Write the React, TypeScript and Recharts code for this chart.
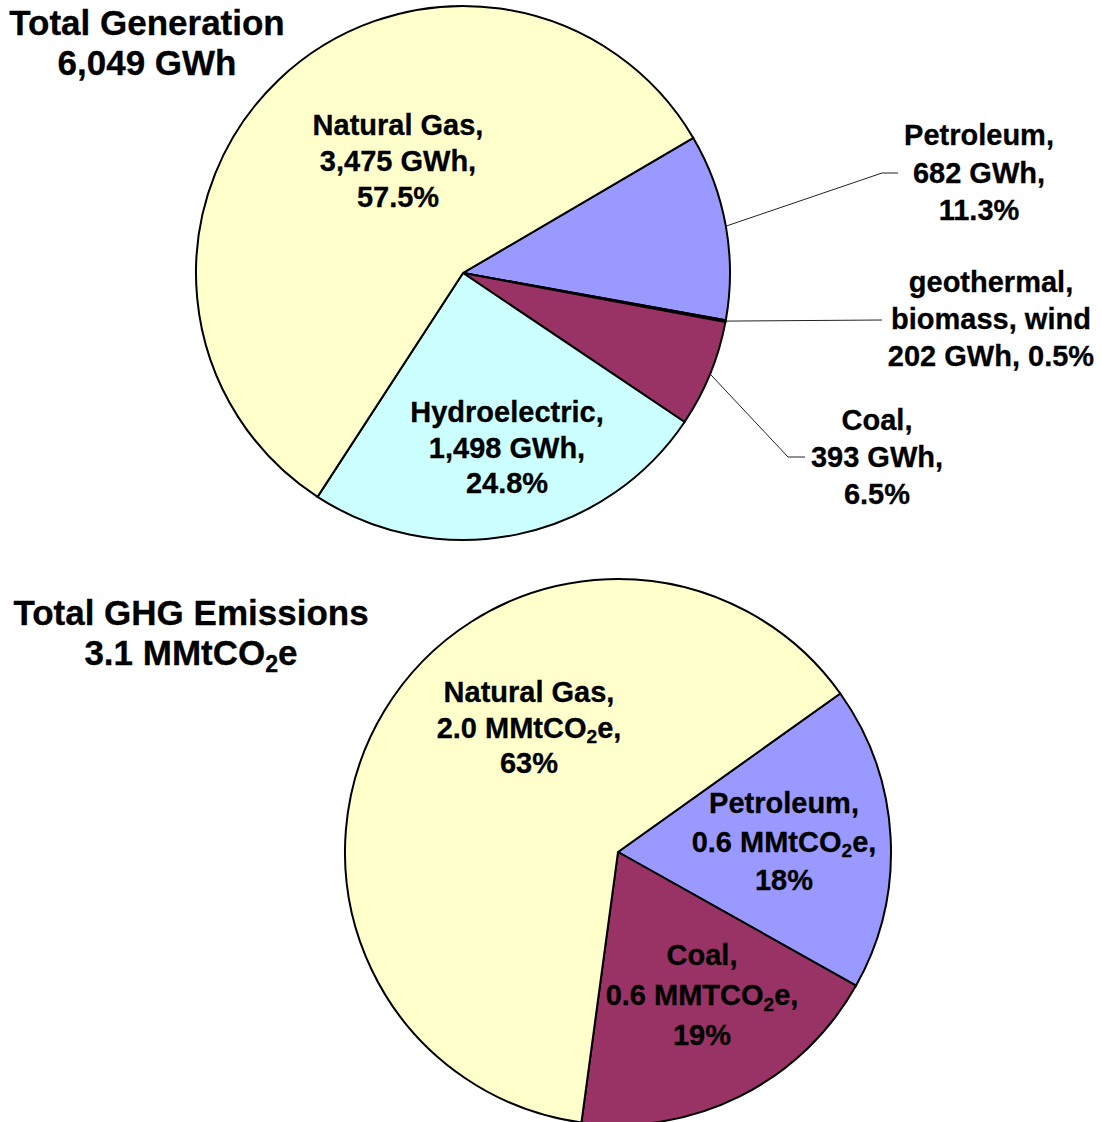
import React from "react";
import { PieChart, Pie, Cell } from "recharts";

// generation by source, percent of total (clockwise from the gas/petroleum edge)
const genNames = ["Petroleum", "geothermal, biomass, wind", "Coal", "Hydroelectric", "Natural Gas"];
const genShares = [11.3, 0.1, 6.5, 24.8, 57.5];
const genLabels = [
  ["Petroleum,", "682 GWh,", "11.3%"],
  ["geothermal,", "biomass, wind", "202 GWh, 0.5%"],
  ["Coal,", "393 GWh,", "6.5%"],
  ["Hydroelectric,", "1,498 GWh,", "24.8%"],
  ["Natural Gas,", "3,475 GWh,", "57.5%"],
];

// ghg emissions by source, percent of total
const ghgNames = ["Petroleum", "Coal", "Natural Gas"];
const ghgShares = [18, 19, 63];
const ghgLabels = [
  ["Petroleum,", "0.6 MMtCO{2}e,", "18%"],
  ["Coal,", "0.6 MMTCO{2}e,", "19%"],
  ["Natural Gas,", "2.0 MMtCO{2}e,", "63%"],
];

const titleGen = ["Total Generation", "6,049 GWh"];
const titleGhg = ["Total GHG Emissions", "3.1 MMtCO{2}e"];

const genData = genNames.map((name, i) => ({ name, value: genShares[i] }));
const ghgData = ghgNames.map((name, i) => ({ name, value: ghgShares[i] }));

const genColors = ["#9999FF", "#CCFFCC", "#993366", "#CCFFFF", "#FFFFCC"];
const ghgColors = ["#9999FF", "#993366", "#FFFFCC"];

const FONT = '"Liberation Sans", Arial, Helvetica, sans-serif';
const LABEL_SIZE = 29;
const TITLE_SIZE = 35;

// label placement relative to pie centre: text centre x, first baseline y, line gap, optional leader
type Place = { x: number; y: number; gap: number; leader?: number[][] };

const genPlace: Place[] = [
  { x: 516, y: -128, gap: 37.5, leader: [[419, -100], [435, -100]] },
  { x: 528, y: 19, gap: 37, leader: [[419, 47]] },
  { x: 414, y: 157, gap: 37, leader: [[325, 184], [342, 184]] },
  { x: 44, y: 149, gap: 35.5 },
  { x: -65, y: -138, gap: 36 },
];
const ghgPlace: Place[] = [
  { x: 166, y: -39, gap: 38.5 },
  { x: 84, y: 113, gap: 40 },
  { x: -89, y: -150, gap: 35.5 },
];

function rich(s: string, size: number) {
  const parts = s.split(/\{(\d)\}/);
  const shift = size * 0.2;
  const out: React.ReactNode[] = [];
  let lowered = false;
  parts.forEach((p, i) => {
    if (i % 2 === 1) {
      out.push(<tspan key={i} fontSize={size * 0.66} dy={shift}>{p}</tspan>);
      lowered = true;
    } else if (p) {
      out.push(<tspan key={i} dy={lowered ? -shift : 0}>{p}</tspan>);
      lowered = false;
    }
  });
  return out;
}

function makeLabel(lines: string[][], places: Place[]) {
  return (props: any) => {
    const { cx, cy, midAngle, outerRadius, index } = props;
    const pl = places[index];
    const txt = lines[index];
    const RAD = Math.PI / 180;
    let leader = null;
    if (pl.leader) {
      const sx = cx + outerRadius * Math.cos(-midAngle * RAD);
      const sy = cy + outerRadius * Math.sin(-midAngle * RAD);
      const pts = [[sx, sy], ...pl.leader.map(([a, b]) => [cx + a, cy + b])];
      leader = (
        <polyline points={pts.map((p) => p.join(",")).join(" ")} fill="none" stroke="#222" strokeWidth={1} />
      );
    }
    return (
      <g key={`lbl-${index}`}>
        {leader}
        {txt.map((line, j) => (
          <text
            key={j}
            x={cx + pl.x}
            y={cy + pl.y + j * pl.gap}
            textAnchor="middle"
            fontFamily={FONT}
            fontWeight="bold"
            fontSize={LABEL_SIZE}
            fill="#000"
            stroke="#000"
            strokeWidth={0.3}
          >
            {rich(line, LABEL_SIZE)}
          </text>
        ))}
      </g>
    );
  };
}

function Title({ lines, x, y }: { lines: string[]; x: number; y: number }) {
  return (
    <>
      {lines.map((line, j) => (
        <text
          key={j}
          x={x}
          y={y + j * 40}
          textAnchor="middle"
          fontFamily={FONT}
          fontWeight="bold"
          fontSize={TITLE_SIZE}
          fill="#000"
          stroke="#000"
          strokeWidth={0.3}
        >
          {rich(line, TITLE_SIZE)}
        </text>
      ))}
    </>
  );
}

export default function App() {
  return (
    <div style={{ position: "absolute", left: 0, top: 0, width: 1102, height: 1122, background: "#fff", overflow: "hidden" }}>
      <PieChart width={1102} height={1122} margin={{ top: 0, right: 0, bottom: 0, left: 0 }}>
        <Pie
          data={genData}
          dataKey="value"
          nameKey="name"
          cx={463}
          cy={273}
          outerRadius={267}
          startAngle={30.4}
          endAngle={-329.6}
          stroke="#000"
          strokeWidth={2}
          label={makeLabel(genLabels, genPlace)}
          labelLine={false}
          isAnimationActive={false}
        >
          {genData.map((d, i) => (
            <Cell key={d.name} fill={genColors[i]} />
          ))}
        </Pie>
        <Pie
          data={ghgData}
          dataKey="value"
          nameKey="name"
          cx={618}
          cy={852}
          outerRadius={273}
          startAngle={35.5}
          endAngle={-324.5}
          stroke="#000"
          strokeWidth={2}
          label={makeLabel(ghgLabels, ghgPlace)}
          labelLine={false}
          isAnimationActive={false}
        >
          {ghgData.map((d, i) => (
            <Cell key={d.name} fill={ghgColors[i]} />
          ))}
        </Pie>
      </PieChart>
      <svg width={1102} height={1122} style={{ position: "absolute", left: 0, top: 0, pointerEvents: "none" }}>
        <Title lines={titleGen} x={147} y={35} />
        <Title lines={titleGhg} x={191} y={625} />
      </svg>
    </div>
  );
}
